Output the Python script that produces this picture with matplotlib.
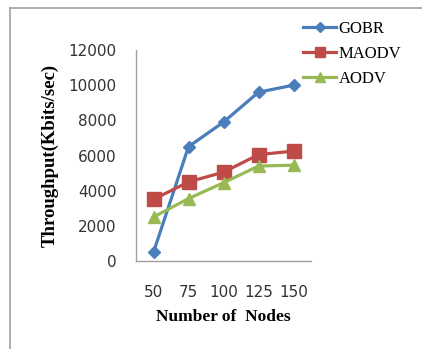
import matplotlib.pyplot as plt
from matplotlib.lines import Line2D

# data
nodes = ["50", "75", "100", "125", "150"]
gobr = [500, 6500, 7900, 9600, 10000]
maodv = [3500, 4500, 5050, 6050, 6250]
aodv = [2500, 3550, 4450, 5400, 5450]
y_ticks = [0, 2000, 4000, 6000, 8000, 10000, 12000]

fig = plt.figure(figsize=(4.22, 3.49), dpi=100)
fig.patch.set_facecolor("white")

# outer frame (left and top edges visible)
fig.add_artist(Line2D([10 / 422, 10 / 422], [0, 1 - 8 / 349], color="#a0a0a0", lw=1.2))
fig.add_artist(Line2D([10 / 422, 1], [1 - 8 / 349, 1 - 8 / 349], color="#a0a0a0", lw=1.2))

ax = fig.add_axes([136 / 422, 1 - 261 / 349, (311 - 136) / 422, (261 - 50) / 349])
x = range(len(nodes))
l1, = ax.plot(x, gobr, color="#4A7EBB", lw=2.3, marker="D", ms=6.5)
l2, = ax.plot(x, maodv, color="#BE4B48", lw=2.3, marker="s", ms=9.5)
l3, = ax.plot(x, aodv, color="#98B954", lw=2.3, marker="^", ms=8.5)

ax.set_xlim(-0.5, len(nodes) - 0.5)
ax.set_ylim(0, 12000)
ax.set_xticks(list(x))
ax.set_xticklabels(nodes)
ax.set_yticks(y_ticks)
ax.tick_params(length=0, labelsize=11, colors="#333333")
ax.tick_params(axis="x", pad=17)
ax.tick_params(axis="y", pad=14)
for s in ("top", "right"):
    ax.spines[s].set_visible(False)
for s in ("left", "bottom"):
    ax.spines[s].set_color("#a0a0a0")
    ax.spines[s].set_linewidth(1.0)

serif = "Liberation Serif"
ax.set_xlabel("Number of  Nodes", family=serif, fontweight="bold", fontsize=12.5, labelpad=7)
ax.set_ylabel("Throughput(Kbits/sec)", family=serif, fontweight="bold", fontsize=13.5, labelpad=7)

fig.legend([l1, l2, l3], ["GOBR", "MAODV", "AODV"], loc="upper left",
           bbox_to_anchor=(288 / 422, 1 - 6 / 349), frameon=False,
           prop={"family": serif, "size": 12}, handlelength=2.0, handletextpad=0.15,
           labelspacing=0.55, markerscale=0.8)

fig.savefig("out.png", dpi=100)
